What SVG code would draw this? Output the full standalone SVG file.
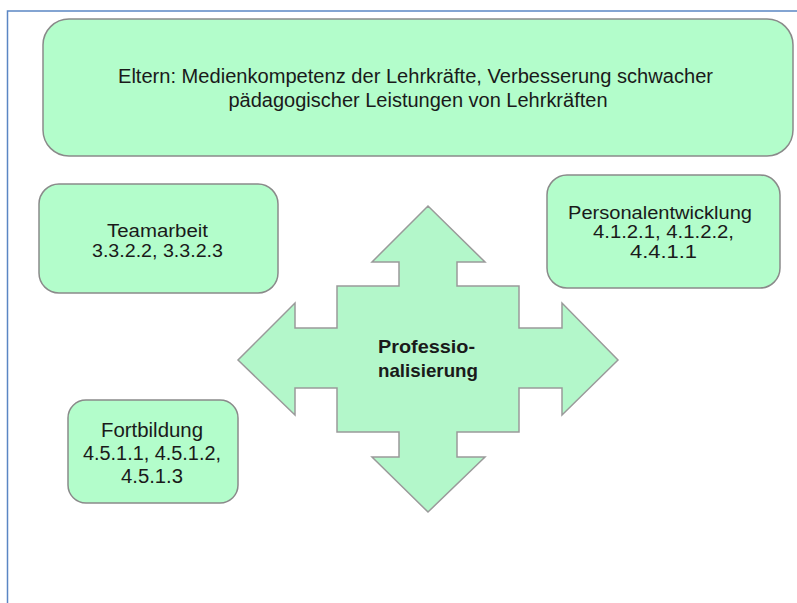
<svg xmlns="http://www.w3.org/2000/svg" width="797" height="603" viewBox="0 0 797 603">
<style>
.box{fill:#b3fdcb;stroke:#8a8a8a;stroke-width:1.5}
.cross{fill:#b3f7ca;stroke:#9a9a9a;stroke-width:1.5}
text{font-family:"Liberation Sans",Arial,sans-serif;font-size:19.5px;fill:#1a1a1a;text-anchor:middle}
.s{font-size:17.5px}
.b{font-weight:bold;font-size:18.5px}
</style>
<rect x="0" y="0" width="797" height="603" fill="#ffffff"/>
<rect x="7.5" y="11" width="800" height="600" fill="none" stroke="#5b86c4" stroke-width="1.5"/>
<g id="eltern">
<rect class="box" x="43" y="19" width="750" height="137" rx="26"/>
<text x="415.5" y="83" textLength="595" lengthAdjust="spacingAndGlyphs">Eltern: Medienkompetenz der Lehrkräfte, Verbesserung schwacher</text>
<text x="418" y="107" textLength="379" lengthAdjust="spacingAndGlyphs">pädagogischer Leistungen von Lehrkräften</text>
</g>
<g id="teamarbeit">
<rect class="box" x="39" y="184" width="239" height="109" rx="20"/>
<text class="s" x="157.5" y="237" textLength="101" lengthAdjust="spacingAndGlyphs">Teamarbeit</text>
<text class="s" x="157.5" y="257" textLength="131" lengthAdjust="spacingAndGlyphs">3.3.2.2, 3.3.2.3</text>
</g>
<g id="personalentwicklung">
<rect class="box" x="547" y="175" width="233" height="113" rx="20"/>
<text class="s" x="660" y="218.5" textLength="184" lengthAdjust="spacingAndGlyphs">Personalentwicklung</text>
<text class="s" x="663.5" y="238" textLength="141" lengthAdjust="spacingAndGlyphs">4.1.2.1, 4.1.2.2,</text>
<text class="s" x="663.5" y="257.5" textLength="67" lengthAdjust="spacingAndGlyphs">4.4.1.1</text>
</g>
<g id="fortbildung">
<rect class="box" x="68" y="400" width="170" height="103" rx="18"/>
<text x="152" y="437" textLength="102" lengthAdjust="spacingAndGlyphs">Fortbildung</text>
<text x="152" y="460" textLength="138" lengthAdjust="spacingAndGlyphs">4.5.1.1, 4.5.1.2,</text>
<text x="152" y="483" textLength="62" lengthAdjust="spacingAndGlyphs">4.5.1.3</text>
</g>
<g id="professionalisierung">
<path class="cross" d="M428,206 L485,262 L457,262 L457,286 L519,286 L519,328 L562,328 L562,303 L618,360 L562,415 L562,388 L519,388 L519,432 L457,432 L457,457 L485,457 L428,512 L372,457 L399,457 L399,432 L337,432 L337,388 L295,388 L295,415 L238,360 L295,303 L295,328 L337,328 L337,286 L399,286 L399,262 L372,262 Z"/>
<text class="b" x="426.5" y="353" textLength="97" lengthAdjust="spacingAndGlyphs">Professio-</text>
<text class="b" x="428" y="377" textLength="100" lengthAdjust="spacingAndGlyphs">nalisierung</text>
</g>
<g id="connectors"></g>
</svg>
